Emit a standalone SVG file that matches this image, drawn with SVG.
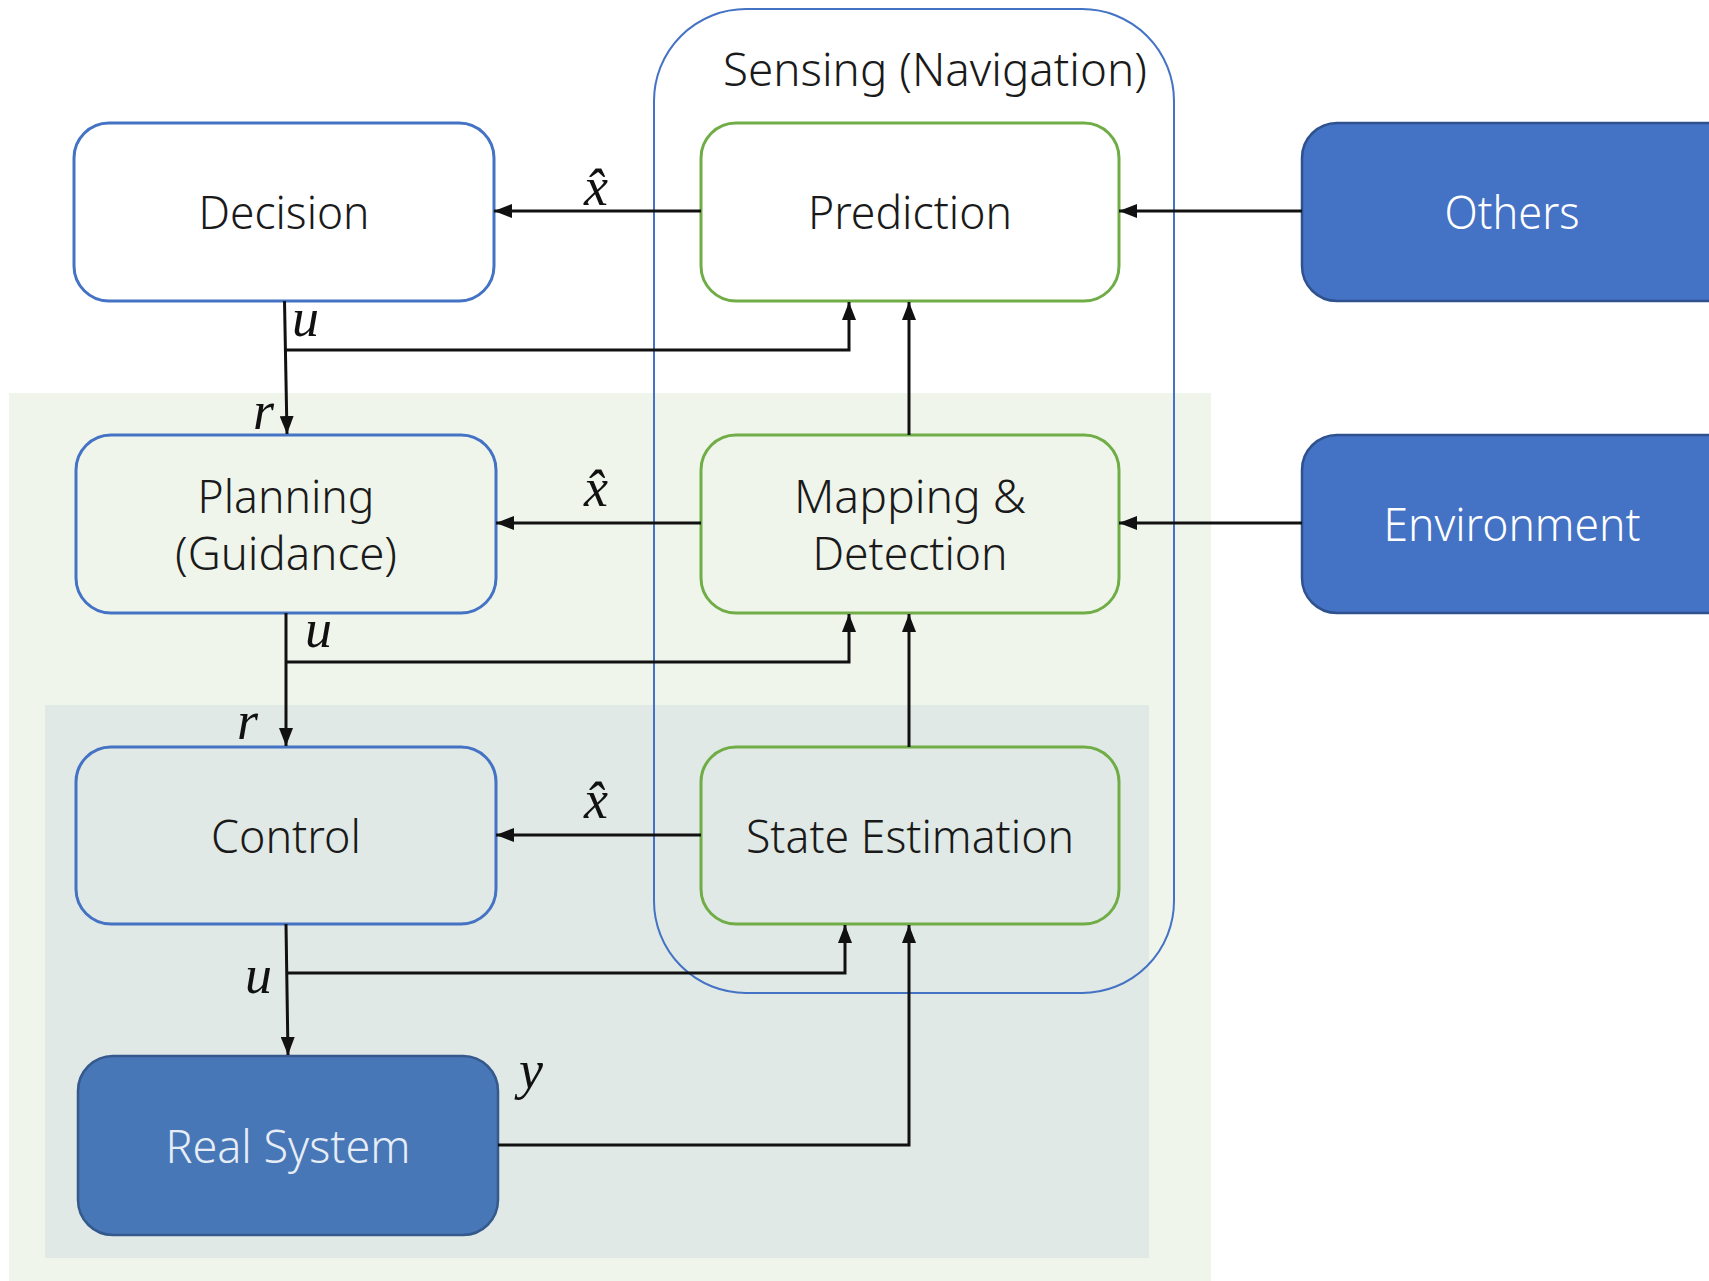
<svg xmlns="http://www.w3.org/2000/svg" width="1709" height="1281" viewBox="0 0 1709 1281">
<style>
.lbl{font-family:"Noto Sans","Open Sans",sans-serif;font-weight:300;font-size:46px;fill:#1a1a1a;text-anchor:middle}
.wl{fill:#ffffff}
.rs{fill:#e6edf5}
.math{font-family:"Liberation Serif","DejaVu Serif",serif;font-style:italic;font-size:54px;fill:#111}
.ob{fill:none;stroke:#4472C4;stroke-width:3}
.gb{fill:none;stroke:#70AD47;stroke-width:3}
.fb{fill:#4472C4;stroke:#2F528F;stroke-width:2.5}
.c{fill:none;stroke:#111;stroke-width:3}
</style>
<defs>
<marker id="ah" viewBox="0 0 18 14" refX="18" refY="7" markerWidth="18" markerHeight="14" markerUnits="userSpaceOnUse" orient="auto">
<path d="M0,0 L18,7 L0,14 Z" fill="#111"/>
</marker>
</defs>
<rect x="0" y="0" width="1709" height="1281" fill="#ffffff"/>
<g id="backgrounds">
<rect x="9" y="393" width="1202" height="888" fill="#F0F5EC"/>
<rect x="45" y="705" width="1104" height="553" fill="#E0E9E5"/>
</g>
<g id="sensing">
<rect x="654" y="9" width="520" height="984" rx="92" ry="92" fill="none" stroke="#4472C4" stroke-width="2"/>
<text class="lbl" x="935" y="86" textLength="424" lengthAdjust="spacingAndGlyphs">Sensing (Navigation)</text>
</g>
<g id="decision">
<rect class="ob" x="74" y="123" width="420" height="178" rx="35" fill="#fff"/>
<text class="lbl" x="284" y="229" textLength="171" lengthAdjust="spacingAndGlyphs">Decision</text>
</g>
<g id="prediction">
<rect class="gb" x="701" y="123" width="418" height="178" rx="35" style="fill:#fff"/>
<text class="lbl" x="910" y="229" textLength="204" lengthAdjust="spacingAndGlyphs">Prediction</text>
</g>
<g id="others">
<rect class="fb" x="1302" y="123" width="440" height="178" rx="35"/>
<text class="lbl wl" x="1512" y="229" textLength="135" lengthAdjust="spacingAndGlyphs">Others</text>
</g>
<g id="planning">
<rect class="ob" x="76" y="435" width="420" height="178" rx="35"/>
<text class="lbl" x="286" y="513" textLength="177" lengthAdjust="spacingAndGlyphs">Planning</text>
<text class="lbl" x="286" y="570" textLength="222" lengthAdjust="spacingAndGlyphs">(Guidance)</text>
</g>
<g id="mapping">
<rect class="gb" x="701" y="435" width="418" height="178" rx="35"/>
<text class="lbl" x="910" y="513" textLength="232" lengthAdjust="spacingAndGlyphs">Mapping &amp;</text>
<text class="lbl" x="910" y="570" textLength="195" lengthAdjust="spacingAndGlyphs">Detection</text>
</g>
<g id="environment">
<rect class="fb" x="1302" y="435" width="440" height="178" rx="35"/>
<text class="lbl wl" x="1512" y="541" textLength="257" lengthAdjust="spacingAndGlyphs">Environment</text>
</g>
<g id="control">
<rect class="ob" x="76" y="747" width="420" height="177" rx="35"/>
<text class="lbl" x="286" y="853" textLength="150" lengthAdjust="spacingAndGlyphs">Control</text>
</g>
<g id="state-estimation">
<rect class="gb" x="701" y="747" width="418" height="177" rx="35"/>
<text class="lbl" x="910" y="853" textLength="328" lengthAdjust="spacingAndGlyphs">State Estimation</text>
</g>
<g id="real-system">
<rect x="78" y="1056" width="420" height="179" rx="35" fill="#4877B7" stroke="#35598C" stroke-width="2.5"/>
<text class="lbl rs" x="288" y="1163" textLength="245" lengthAdjust="spacingAndGlyphs">Real System</text>
</g>
<g id="connectors">
<line class="c" x1="701" y1="211" x2="494" y2="211" marker-end="url(#ah)"/>
<line class="c" x1="1302" y1="211" x2="1119" y2="211" marker-end="url(#ah)"/>
<line class="c" x1="284.5" y1="301" x2="287" y2="434" marker-end="url(#ah)"/>
<polyline class="c" points="284.5,350 849,350 849,302" marker-end="url(#ah)"/>
<line class="c" x1="909" y1="435" x2="909" y2="302" marker-end="url(#ah)"/>
<line class="c" x1="701" y1="523" x2="496" y2="523" marker-end="url(#ah)"/>
<line class="c" x1="1302" y1="523" x2="1119" y2="523" marker-end="url(#ah)"/>
<line class="c" x1="286" y1="613" x2="286" y2="746" marker-end="url(#ah)"/>
<polyline class="c" points="286,662 849,662 849,614" marker-end="url(#ah)"/>
<line class="c" x1="909" y1="747" x2="909" y2="614" marker-end="url(#ah)"/>
<line class="c" x1="701" y1="835" x2="496" y2="835" marker-end="url(#ah)"/>
<line class="c" x1="286" y1="924" x2="288" y2="1055" marker-end="url(#ah)"/>
<polyline class="c" points="286,973 845,973 845,925" marker-end="url(#ah)"/>
<polyline class="c" points="498,1145 909,1145 909,925" marker-end="url(#ah)"/>
</g>
<g id="labels">
<text class="math" x="584" y="205">x&#x302;</text>
<text class="math" x="292" y="336">u</text>
<text class="math" x="253" y="429">r</text>
<text class="math" x="584" y="506">x&#x302;</text>
<text class="math" x="305" y="647">u</text>
<text class="math" x="237" y="739">r</text>
<text class="math" x="584" y="818">x&#x302;</text>
<text class="math" x="245" y="993">u</text>
<text class="math" x="519" y="1088">y</text>
</g>
</svg>
